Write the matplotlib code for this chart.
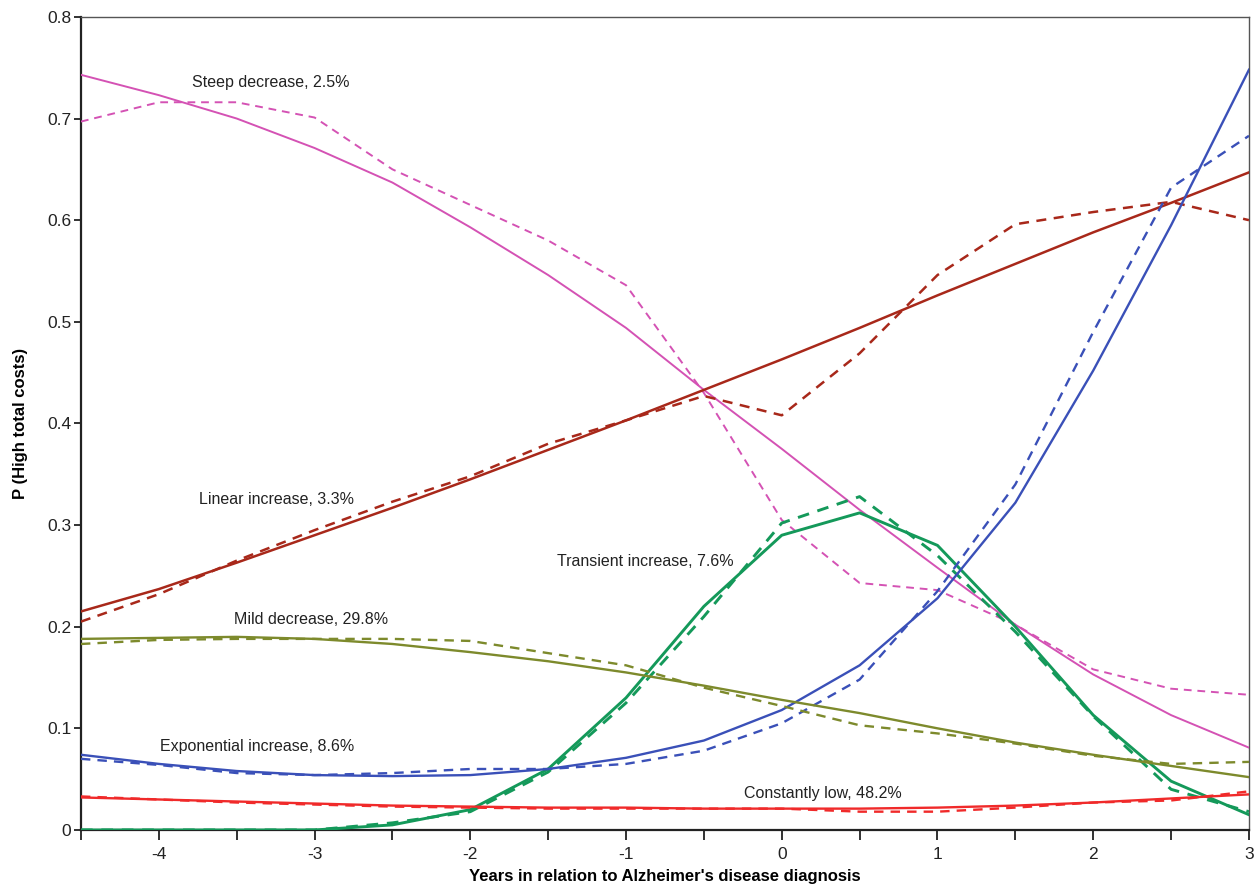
import matplotlib
matplotlib.use("Agg")
import matplotlib.pyplot as plt
import numpy as np

plt.rcParams['font.family'] = ['Liberation Sans', 'DejaVu Sans']

# years relative to diagnosis, half-year steps
years = [-4.5, -4, -3.5, -3, -2.5, -2, -1.5, -1, -0.5, 0, 0.5, 1, 1.5, 2, 2.5, 3]

# fitted (solid) and observed (dashed) probabilities per trajectory group
steep_fit = [0.743, 0.723, 0.700, 0.671, 0.637, 0.593, 0.546, 0.494, 0.433, 0.375, 0.315, 0.258, 0.202, 0.153, 0.113, 0.081]
steep_obs = [0.697, 0.716, 0.716, 0.701, 0.650, 0.615, 0.580, 0.536, 0.430, 0.305, 0.243, 0.236, 0.202, 0.158, 0.139, 0.133]

linear_fit = [0.215, 0.237, 0.263, 0.290, 0.317, 0.345, 0.374, 0.403, 0.433, 0.463, 0.494, 0.526, 0.557, 0.588, 0.617, 0.647]
linear_obs = [0.205, 0.232, 0.265, 0.295, 0.323, 0.348, 0.380, 0.403, 0.427, 0.408, 0.469, 0.546, 0.596, 0.608, 0.618, 0.600]

transient_fit = [0.0, 0.0, 0.0, 0.0, 0.005, 0.020, 0.060, 0.130, 0.220, 0.290, 0.312, 0.280, 0.200, 0.113, 0.048, 0.015]
transient_obs = [0.0, 0.0, 0.0, 0.0, 0.007, 0.018, 0.057, 0.125, 0.210, 0.302, 0.328, 0.270, 0.195, 0.112, 0.040, 0.018]

expo_fit = [0.074, 0.065, 0.058, 0.054, 0.053, 0.054, 0.060, 0.071, 0.088, 0.118, 0.162, 0.228, 0.322, 0.452, 0.595, 0.748]
expo_obs = [0.070, 0.064, 0.056, 0.054, 0.056, 0.060, 0.060, 0.065, 0.078, 0.105, 0.148, 0.235, 0.340, 0.490, 0.632, 0.683]

mild_fit = [0.188, 0.189, 0.190, 0.188, 0.183, 0.175, 0.166, 0.155, 0.142, 0.128, 0.115, 0.100, 0.086, 0.074, 0.063, 0.052]
mild_obs = [0.183, 0.187, 0.188, 0.188, 0.188, 0.186, 0.174, 0.162, 0.140, 0.122, 0.103, 0.095, 0.085, 0.073, 0.065, 0.067]

low_fit = [0.032, 0.030, 0.028, 0.026, 0.024, 0.023, 0.022, 0.022, 0.021, 0.021, 0.021, 0.022, 0.024, 0.027, 0.031, 0.035]
low_obs = [0.033, 0.030, 0.027, 0.025, 0.023, 0.022, 0.021, 0.021, 0.021, 0.021, 0.018, 0.018, 0.022, 0.027, 0.029, 0.038]

groups = [
    ("Steep decrease, 2.5%", steep_fit, steep_obs, "#d452b4", 1.4, -3.79, 0.735),
    ("Linear increase, 3.3%", linear_fit, linear_obs, "#a8281a", 1.8, -3.74, 0.325),
    ("Transient increase, 7.6%", transient_fit, transient_obs, "#14995a", 2.1, -1.44, 0.264),
    ("Exponential increase, 8.6%", expo_fit, expo_obs, "#3a50b8", 1.7, -3.99, 0.082),
    ("Mild decrease, 29.8%", mild_fit, mild_obs, "#7d8a2c", 1.7, -3.52, 0.207),
    ("Constantly low, 48.2%", low_fit, low_obs, "#f02a2a", 1.7, -0.24, 0.036),
]

fig = plt.figure(figsize=(12.57, 8.89), dpi=100)
ax = fig.add_axes([0.0644, 0.0664, 0.9292, 0.9146])

for label, fit, obs, col, lw, tx, ty in groups:
    ax.plot(years, fit, color=col, lw=lw, zorder=3)
    ax.plot(years, obs, color=col, lw=lw, ls=(0, (4, 3)), zorder=3)
    ax.text(tx, ty, label, fontsize=11.5, color="#222222", va="center", ha="left")

ax.set_xlim(-4.5, 3)
ax.set_ylim(0, 0.8)
ax.set_xticks(np.arange(-4, 4, 1))
ax.set_xticklabels(["-4", "-3", "-2", "-1", "0", "1", "2", "3"])
ax.set_xticks(np.arange(-4.5, 3.1, 0.5), minor=True)
ax.set_yticks(np.arange(0, 0.81, 0.1))
ax.set_yticklabels(["0", "0.1", "0.2", "0.3", "0.4", "0.5", "0.6", "0.7", "0.8"])
ax.tick_params(axis="both", which="both", direction="out", labelsize=12.5, colors="#222222", width=1.3)
ax.tick_params(axis="x", which="major", length=7, pad=5)
ax.tick_params(axis="x", which="minor", length=7)
ax.tick_params(axis="y", length=5, pad=2)

for side in ["left", "bottom"]:
    ax.spines[side].set_linewidth(1.6)
    ax.spines[side].set_color("#222222")
for side in ["top", "right"]:
    ax.spines[side].set_linewidth(1.0)
    ax.spines[side].set_color("#555555")

ax.set_xlabel("Years in relation to Alzheimer's disease diagnosis", fontsize=12, fontweight="bold", labelpad=5)
ax.set_ylabel("P (High total costs)", fontsize=12, fontweight="bold", labelpad=14)

fig.savefig("out.png", dpi=100)
